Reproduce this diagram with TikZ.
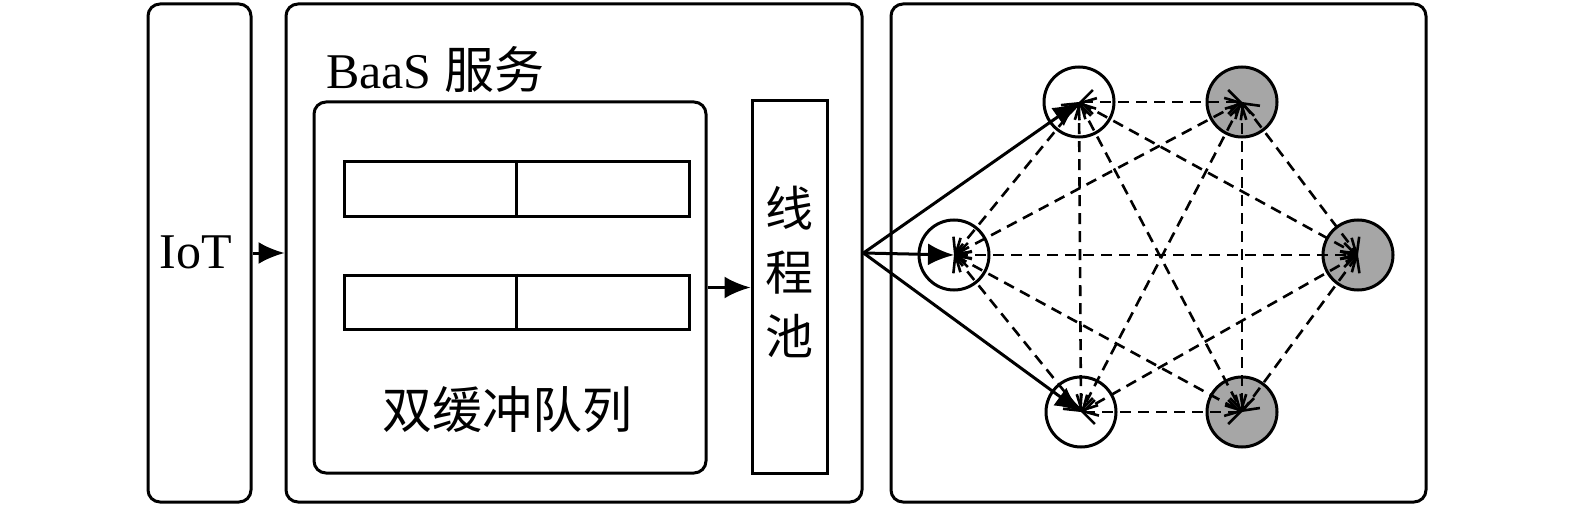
\documentclass[tikz,border=0pt]{standalone}
\usepackage{fontspec}
\setmainfont{Liberation Serif}
\newfontfamily\cjk{Noto Sans CJK SC}
\usetikzlibrary{arrows.meta}
\begin{document}
\begin{tikzpicture}[x=1pt,y=-1pt,
  box/.style={draw, line width=3pt, rounded corners=12pt, inner sep=0pt},
  sq/.style={draw, line width=3pt, inner sep=0pt},
  peer/.style={circle, draw, line width=3pt, minimum size=70pt, inner sep=0pt},
  orderer/.style={peer, fill=black!35},
  lbl/.style={font=\fontsize{50}{64}\selectfont, inner sep=0pt},
  flow/.style={line width=3pt, -{Latex[length=26pt,width=22pt]}},
  link/.style={line width=2.6pt, dash pattern=on 11pt off 7pt,
    {Straight Barb[length=12pt,width=24pt]}-{Straight Barb[length=12pt,width=24pt]}}
]
\useasboundingbox (0,0) rectangle (1575,508);
% boxes
\node[box, minimum width=103pt, minimum height=498pt] (iot) at (199.5,253) {};
\node[box, minimum width=576pt, minimum height=498pt] (baas) at (574,253) {};
\node[box, minimum width=392pt, minimum height=371pt] (queue) at (510,287.5) {};
\node[sq, minimum width=345pt, minimum height=54pt] (bar1) at (516.5,189) {};
\node[sq, minimum width=345pt, minimum height=54pt] (bar2) at (516.5,302) {};
\draw[line width=3pt] (bar1.north) -- (bar1.south);
\draw[line width=3pt] (bar2.north) -- (bar2.south);
\node[sq, minimum width=75pt, minimum height=372pt] (pool) at (789.5,287) {};
\node[box, minimum width=535pt, minimum height=498pt] (net) at (1158.5,253) {};
% texts
\node[lbl] (iottext) at (196,252) {IoT};
\node[lbl, anchor=west] (baastitle) at (326,70) {BaaS {\cjk 服务}};
\node[lbl, font=\fontsize{50}{64}\selectfont\cjk] (queuetext) at (507,410) {双缓冲队列};
\node[lbl, font=\fontsize{48}{64}\selectfont\cjk, align=center] (pooltext) at (789,272) {线\\程\\池};
% circles
\node[peer] (A) at (1079,102) {};
\node[orderer] (B) at (1242,102) {};
\node[peer] (C) at (954,255) {};
\node[orderer] (D) at (1358,255) {};
\node[peer] (E) at (1081,412) {};
\node[orderer] (F) at (1242,412) {};
% flows
\draw[flow] (iot.east) -- (baas.west);
\draw[flow] (queue.east) -- (queue.east -| pool.west);
\draw[flow] (baas.east) -- (A.center);
\draw[flow] (baas.east) -- (C.center);
\draw[flow] (baas.east) -- (E.center);
% links
\foreach \p/\q in {A/B,A/C,A/D,A/E,A/F,B/C,B/D,B/E,B/F,C/D,C/E,C/F,D/E,D/F,E/F}
  \draw[link] (\p.center) -- (\q.center);
\end{tikzpicture}
\end{document}
